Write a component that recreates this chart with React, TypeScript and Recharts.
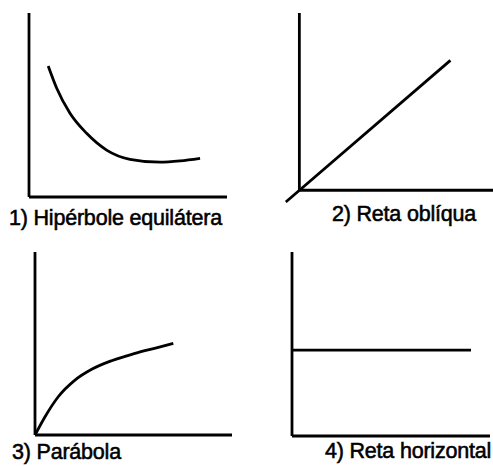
import React from "react";
import { LineChart, Line, XAxis, YAxis, ReferenceLine } from "recharts";

// 1) Hipérbole equilátera — decreasing curve flattening out
const hyperbolaX = [0.97, 1.4, 2.07, 2.91, 3.92, 5.1, 6.62, 7.63, 8.64];
const hyperbolaY = [7.12, 5.91, 4.55, 3.46, 2.55, 2.05, 1.89, 1.96, 2.1];

// 2) Reta oblíqua — straight line through the origin
const obliqueX = [-0.7, 7.8];
const obliqueY = [-0.66, 7.33];

// 3) Parábola — rising curve from the origin
const parabolaX = [0, 0.51, 1.18, 2.03, 2.88, 3.89, 5.08, 6.26, 7.02];
const parabolaY = [0, 1.0, 2.09, 3.0, 3.59, 4.06, 4.46, 4.79, 5.01];

// 4) Reta horizontal — constant value
const horizontalX = [0, 9.04];
const horizontalY = [4.67, 4.67];

const captions = [
  "1) Hipérbole equilátera",
  "2) Reta oblíqua",
  "3) Parábola",
  "4) Reta horizontal",
];

const INK = "#000";
const STROKE = 2.8;

const toRows = (xs: number[], ys: number[]) =>
  xs.map((x, i) => ({ x, y: ys[i] }));

type PanelProps = {
  left: number;
  top: number;
  width: number;
  height: number;
  xDomain: [number, number];
  yDomain: [number, number];
  xs: number[];
  ys: number[];
  pad: { top: number; right: number; bottom: number; left: number };
};

function Panel({ left, top, width, height, xDomain, yDomain, xs, ys, pad }: PanelProps) {
  const data = toRows(xs, ys);
  return (
    <div style={{ position: "absolute", left, top }}>
      <LineChart width={width} height={height} data={data} margin={pad}>
        <XAxis type="number" dataKey="x" domain={xDomain} hide />
        <YAxis type="number" dataKey="y" domain={yDomain} hide />
        <ReferenceLine
          segment={[
            { x: 0, y: 0 },
            { x: 0, y: yDomain[1] },
          ]}
          stroke={INK}
          strokeWidth={STROKE}
          ifOverflow="visible"
        />
        <ReferenceLine
          segment={[
            { x: 0, y: 0 },
            { x: xDomain[1], y: 0 },
          ]}
          stroke={INK}
          strokeWidth={STROKE}
          ifOverflow="visible"
        />
        <Line
          type="monotone"
          dataKey="y"
          stroke={INK}
          strokeWidth={STROKE}
          dot={false}
          activeDot={false}
          isAnimationActive={false}
        />
      </LineChart>
    </div>
  );
}

export default function App() {
  const font = "'Liberation Sans', Arial, sans-serif";
  return (
    <div
      style={{
        position: "absolute",
        left: 0,
        top: 0,
        width: 493,
        height: 466,
        background: "#fff",
        overflow: "hidden",
      }}
    >
      <Panel
        left={19}
        top={3}
        width={218}
        height={204}
        pad={{ top: 10, right: 10, bottom: 10, left: 10 }}
        xDomain={[0, 10]}
        yDomain={[0, 10]}
        xs={hyperbolaX}
        ys={hyperbolaY}
      />
      <Panel
        left={270}
        top={3}
        width={223}
        height={215}
        pad={{ top: 10, right: 0, bottom: 10, left: 10 }}
        xDomain={[-1, 10]}
        yDomain={[-1, 10]}
        xs={obliqueX}
        ys={obliqueY}
      />
      <Panel
        left={25}
        top={242}
        width={217}
        height={203}
        pad={{ top: 10, right: 10, bottom: 10, left: 10 }}
        xDomain={[0, 10]}
        yDomain={[0, 10]}
        xs={parabolaX}
        ys={parabolaY}
      />
      <Panel
        left={282}
        top={242}
        width={211}
        height={204}
        pad={{ top: 10, right: 3, bottom: 10, left: 10 }}
        xDomain={[0, 10]}
        yDomain={[0, 10]}
        xs={horizontalX}
        ys={horizontalY}
      />
      <svg
        width={493}
        height={466}
        style={{ position: "absolute", left: 0, top: 0, pointerEvents: "none" }}
      >
        <g
          fontFamily={font}
          fontSize={21.5}
          letterSpacing={-0.2}
          fill={INK}
          stroke={INK}
          strokeWidth={0.55}
        >
          <text x={9} y={225}>{captions[0]}</text>
          <text x={332} y={221}>{captions[1]}</text>
          <text x={12} y={459}>{captions[2]}</text>
          <text x={325} y={458}>{captions[3]}</text>
        </g>
      </svg>
    </div>
  );
}
